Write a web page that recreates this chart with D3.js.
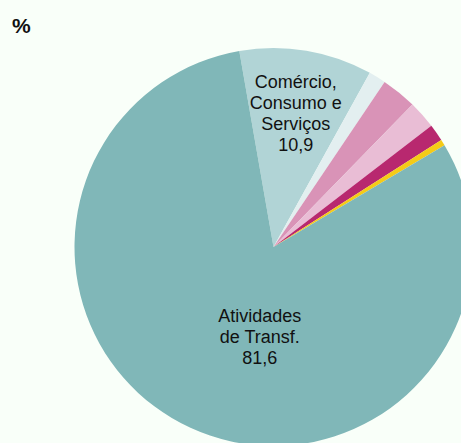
<!DOCTYPE html>
<html>
<head>
<meta charset="utf-8">
<script src="https://cdn.jsdelivr.net/npm/d3@7"></script>
<style>
  html, body { margin: 0; padding: 0; background: #f9fff9; }
  svg { display: block; }
  text { font-family: "Liberation Sans", Arial, sans-serif; fill: #111; }
</style>
</head>
<body>
<svg id="chart" width="461" height="443"></svg>
<script>
// categorias (sentido horário, a começar no topo)
var categories = [
    "Comércio, Consumo e Serviços",
    "Outros 1",
    "Outros 2",
    "Outros 3",
    "Outros 4",
    "Outros 5",
    "Atividades de Transf."
];
var values = [10.9, 1.4, 2.9, 2.3, 1.4, 0.5, 81.6];
var labelLines = [
    ["Comércio,", "Consumo e", "Serviços", "10,9"],
    null, null, null, null, null,
    ["Atividades", "de Transf.", "81,6"]
];
var colors = ["#b1d4d6", "#e3eff0", "#d993b7", "#e9bdd5", "#b8286f", "#f5cb17", "#80b7b8"];

var svg = d3.select("#chart");
var cx = 273.5, cy = 247, radius = 199;

svg.append("rect")
    .attr("width", 461)
    .attr("height", 443)
    .attr("fill", "#f9fff9");

var startDeg = -9.9;
var pie = d3.pie()
    .sort(null)
    .value(function (d) { return d; })
    .startAngle(startDeg * Math.PI / 180)
    .endAngle((startDeg + 360) * Math.PI / 180);

var arcs = pie(values);
var arc = d3.arc().innerRadius(0).outerRadius(radius);

var g = svg.append("g").attr("transform", "translate(" + cx + "," + cy + ")");

g.selectAll("path")
    .data(arcs)
    .enter()
    .append("path")
    .attr("d", arc)
    .attr("fill", function (d, i) { return colors[i]; });

// posição dos rótulos: raio e desvio angular (graus) por fatia
var labelRadius = [135, 0, 0, 0, 0, 0, 91];
var labelShift = [0, 0, 0, 0, 0, 0, -16];
var lineH = 21;

arcs.forEach(function (d, i) {
    if (!labelLines[i]) return;
    var mid = (d.startAngle + d.endAngle) / 2 + labelShift[i] * Math.PI / 180;
    var x = Math.sin(mid) * labelRadius[i];
    var y = -Math.cos(mid) * labelRadius[i];
    var lines = labelLines[i];
    var t = g.append("text")
        .attr("text-anchor", "middle")
        .style("font-size", "18px");
    lines.forEach(function (s, k) {
        t.append("tspan")
            .attr("x", x)
            .attr("y", y + (k - (lines.length - 1) / 2) * lineH + 6)
            .text(s);
    });
});

svg.append("text")
    .attr("x", 12)
    .attr("y", 33)
    .style("font-size", "21px")
    .style("font-weight", "bold")
    .text("%");
</script>
</body>
</html>
